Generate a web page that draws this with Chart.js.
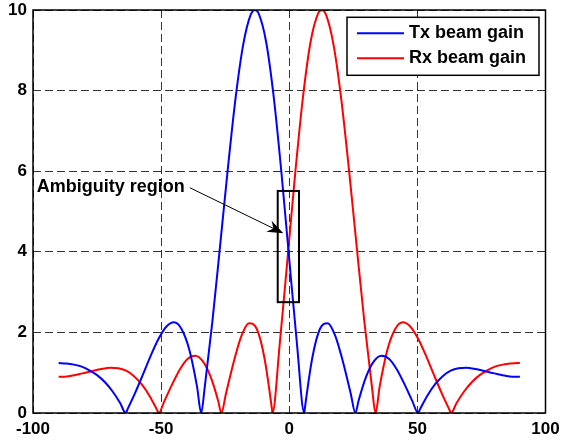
<!DOCTYPE html>
<html>
<head>
<meta charset="utf-8">
<script src="https://cdn.jsdelivr.net/npm/chart.js@4"></script>
<style>
  html, body { margin: 0; padding: 0; background: #fff; }
  #wrap { width: 562px; height: 442px; }
</style>
</head>
<body>
<div id="wrap"><canvas id="beamChart" width="562" height="442"></canvas></div>
<script>
// Tx beam gain (blue)
const txAngles = [-90, -87, -84, -81, -78, -75, -72, -69, -66, -63.85, -63, -60, -57, -54, -51, -48, -45, -42, -39, -36, -34.36,
    -33, -30, -27, -24, -21, -18, -15, -13.36, -12, -9, -6, -3, 0, 3, 5.87, 6, 9, 12, 15, 18, 21, 24, 25.83,
    27, 30, 33, 36, 39, 42, 45, 48, 50.26, 51, 54, 57, 60, 63, 66, 69, 72, 75, 78, 81, 84, 87, 90];
const txGain = [1.24, 1.23, 1.20, 1.15, 1.06, 0.94, 0.77, 0.54, 0.25, 0, 0.11, 0.52, 0.97, 1.43, 1.84, 2.14, 2.25, 2.08, 1.57, 0.66, 0,
    0.63, 2.27, 4.14, 6.04, 7.79, 9.13, 9.89, 10, 9.92, 9.20, 7.81, 5.93, 3.81, 1.72, 0, 0.07, 1.37, 2.09, 2.23, 1.91, 1.26, 0.48, 0,
    0.29, 0.90, 1.28, 1.42, 1.34, 1.08, 0.71, 0.30, 0, 0.09, 0.44, 0.72, 0.92, 1.05, 1.11, 1.12, 1.10, 1.06, 1.01, 0.97, 0.93, 0.90, 0.90];

// Rx beam gain (red)
const rxAngles = [-90, -87.7, -84.7, -81.7, -78.7, -75.7, -72.7, -69.7, -66.7, -63.7, -60.7, -57.7, -54.7, -51.7, -50.96, -48.7,
    -45.7, -42.7, -39.7, -36.7, -33.7, -30.7, -27.7, -26.53, -24.7, -21.7, -18.7, -15.7, -12.7, -9.7, -6.7, -6.57, -3.7, -0.7,
    2.3, 5.3, 8.3, 11.3, 12.66, 14.3, 17.3, 20.3, 23.3, 26.3, 29.3, 32.3, 33.66, 35.3, 38.3, 41.3, 44.3, 47.3, 50.3, 53.3,
    56.3, 59.3, 62.3, 63.15, 65.3, 68.3, 71.3, 74.3, 77.3, 80.3, 83.3, 86.3, 89.3, 90];
const rxGain = [0.90, 0.90, 0.93, 0.97, 1.01, 1.06, 1.10, 1.12, 1.11, 1.05, 0.92, 0.72, 0.44, 0.09, 0, 0.30,
    0.71, 1.08, 1.34, 1.42, 1.28, 0.90, 0.29, 0, 0.48, 1.26, 1.91, 2.23, 2.09, 1.37, 0.07, 0, 1.72, 3.81,
    5.93, 7.81, 9.20, 9.92, 10, 9.89, 9.13, 7.79, 6.04, 4.14, 2.27, 0.63, 0, 0.66, 1.57, 2.08, 2.25, 2.14, 1.84, 1.43,
    0.97, 0.52, 0.11, 0, 0.25, 0.54, 0.77, 0.94, 1.06, 1.15, 1.20, 1.23, 1.24, 1.24];

const seriesLabels = ['Tx beam gain', 'Rx beam gain'];
const seriesColors = ['#0000ff', '#ff0000'];

// axis ticks
const xTicks = [-100, -50, 0, 50, 100];
const yTicks = [0, 2, 4, 6, 8, 10];

// annotation (data units)
const boxX = [-4.5, 3.8];
const boxY = [2.75, 5.51];
const noteText = 'Ambiguity region';
const notePos = [-98.5, 5.61];
const arrowFrom = [-38.8, 5.59];
const arrowTo = [-2.3, 4.46];

const FONT = 'Arial, "Liberation Sans", sans-serif';

function toPoints(xs, ys) {
    return xs.map((v, i) => ({ x: v, y: ys[i] }));
}

const overlay = {
    id: 'overlay',
    afterDraw(chart) {
        const { ctx, chartArea: a, scales: { x, y } } = chart;
        ctx.save();

        // box around plot
        ctx.strokeStyle = '#000';
        ctx.lineWidth = 1.5;
        ctx.strokeRect(a.left, a.top, a.right - a.left, a.bottom - a.top);

        // ambiguity box
        const bx1 = x.getPixelForValue(boxX[0]), bx2 = x.getPixelForValue(boxX[1]);
        const by1 = y.getPixelForValue(boxY[1]), by2 = y.getPixelForValue(boxY[0]);
        ctx.lineWidth = 2;
        ctx.strokeRect(bx1, by1, bx2 - bx1, by2 - by1);

        // label
        ctx.fillStyle = '#000';
        ctx.font = 'bold 18px ' + FONT;
        ctx.textAlign = 'left';
        ctx.textBaseline = 'middle';
        ctx.fillText(noteText, x.getPixelForValue(notePos[0]), y.getPixelForValue(notePos[1]));

        // arrow
        const sx = x.getPixelForValue(arrowFrom[0]), sy = y.getPixelForValue(arrowFrom[1]);
        const tx = x.getPixelForValue(arrowTo[0]), ty = y.getPixelForValue(arrowTo[1]);
        const ang = Math.atan2(ty - sy, tx - sx);
        const len = 16, half = 6;
        ctx.lineWidth = 1;
        ctx.beginPath();
        ctx.moveTo(sx, sy);
        ctx.lineTo(tx - Math.cos(ang) * 8, ty - Math.sin(ang) * 8);
        ctx.stroke();
        ctx.beginPath();
        ctx.moveTo(tx, ty);
        ctx.lineTo(tx - Math.cos(ang) * len - Math.sin(ang) * half, ty - Math.sin(ang) * len + Math.cos(ang) * half);
        ctx.lineTo(tx - Math.cos(ang) * (len - 5), ty - Math.sin(ang) * (len - 5));
        ctx.lineTo(tx - Math.cos(ang) * len + Math.sin(ang) * half, ty - Math.sin(ang) * len - Math.cos(ang) * half);
        ctx.closePath();
        ctx.fill();

        // legend
        const lw = 192, lh = 58;
        const lx = a.right - 6.5 - lw, ly = a.top + 7.3;
        ctx.fillStyle = '#fff';
        ctx.fillRect(lx, ly, lw, lh);
        ctx.strokeStyle = '#000';
        ctx.lineWidth = 1.5;
        ctx.strokeRect(lx, ly, lw, lh);
        chart.data.datasets.forEach((ds, i) => {
            const rowY = ly + 16 + i * 25;
            ctx.strokeStyle = ds.borderColor;
            ctx.lineWidth = 2;
            ctx.beginPath();
            ctx.moveTo(lx + 10, rowY);
            ctx.lineTo(lx + 57, rowY);
            ctx.stroke();
            ctx.fillStyle = '#000';
            ctx.font = 'bold 18px ' + FONT;
            ctx.textBaseline = 'middle';
            ctx.fillText(ds.label, lx + 62, rowY);
        });

        ctx.restore();
    }
};

new Chart(document.getElementById('beamChart'), {
    type: 'line',
    data: {
        datasets: [
            { label: seriesLabels[0], data: toPoints(txAngles, txGain), borderColor: seriesColors[0] },
            { label: seriesLabels[1], data: toPoints(rxAngles, rxGain), borderColor: seriesColors[1] }
        ]
    },
    options: {
        responsive: false,
        devicePixelRatio: 1,
        animation: false,
        layout: { padding: { left: 0, right: 16.5, top: 10, bottom: 0 }, autoPadding: false },
        elements: {
            point: { radius: 0 },
            line: { borderWidth: 2, fill: false, cubicInterpolationMode: 'monotone' }
        },
        plugins: { legend: { display: false }, tooltip: { enabled: false } },
        scales: {
            x: {
                type: 'linear',
                min: xTicks[0],
                max: xTicks[xTicks.length - 1],
                afterBuildTicks: (scale) => { scale.ticks = xTicks.map(v => ({ value: v })); },
                afterFit: (scale) => { scale.height = 29; scale.paddingLeft = 0; scale.paddingRight = 0; },
                grid: { color: '#333', lineWidth: 1, drawTicks: false },
                border: { display: false, dash: [8, 4] },
                ticks: { color: '#000', padding: 6, font: { family: FONT, size: 17, weight: 'bold' } }
            },
            y: {
                min: yTicks[0],
                max: yTicks[yTicks.length - 1],
                afterBuildTicks: (scale) => { scale.ticks = yTicks.map(v => ({ value: v })); },
                afterFit: (scale) => { scale.width = 33; scale.paddingTop = 0; scale.paddingBottom = 0; },
                grid: { color: '#333', lineWidth: 1, drawTicks: false },
                border: { display: false, dash: [8, 4] },
                ticks: { color: '#000', padding: 6, font: { family: FONT, size: 17, weight: 'bold' } }
            }
        }
    },
    plugins: [overlay]
});
</script>
</body>
</html>
